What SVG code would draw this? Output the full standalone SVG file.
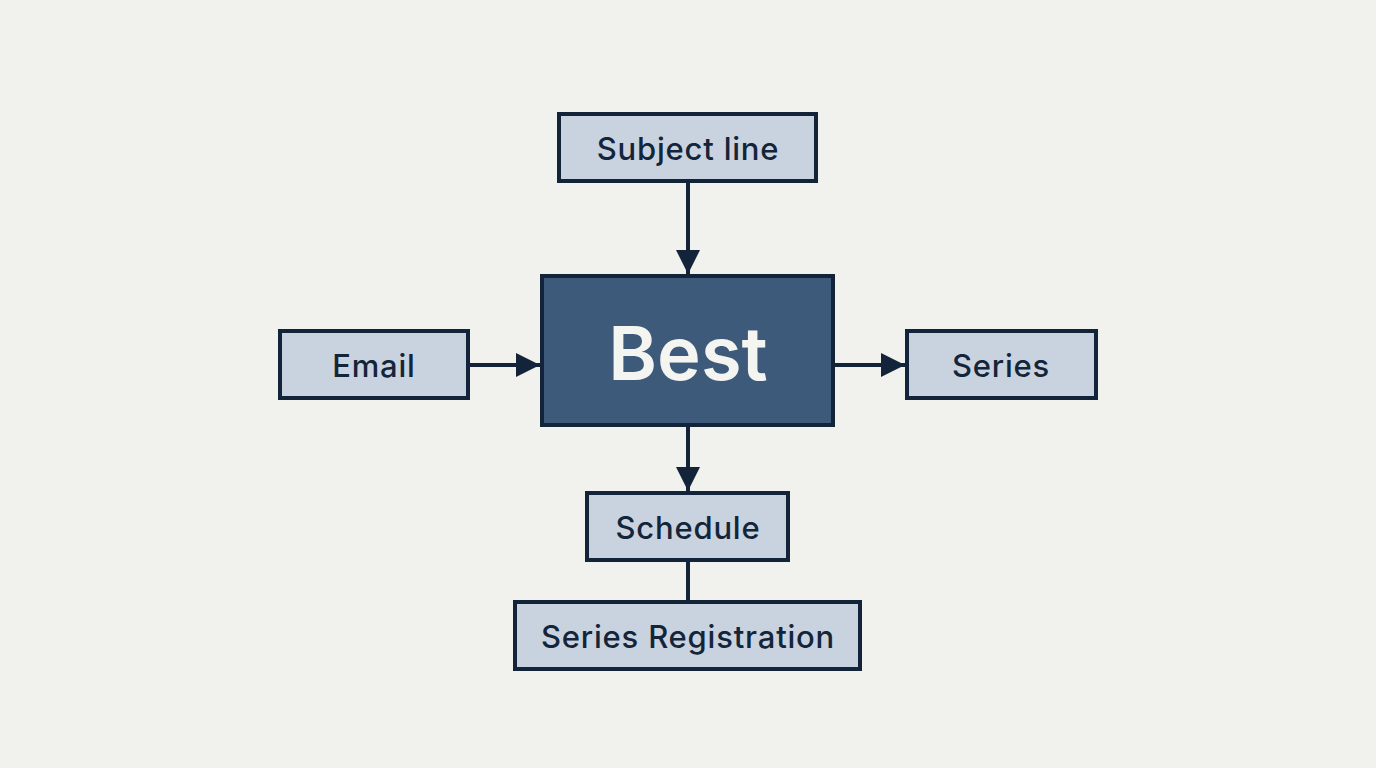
<svg xmlns="http://www.w3.org/2000/svg" width="1376" height="768" viewBox="0 0 1376 768">
<defs>
<style>
.box{fill:#c9d3df;stroke:#13243a;stroke-width:4}
.main{fill:#3e5a7b;stroke:#13243a;stroke-width:4}
.lbl{font-family:Inter,"Liberation Sans",sans-serif;font-size:31px;font-weight:500;letter-spacing:0.8px;fill:#14253a;text-anchor:middle;dominant-baseline:central}
.big{font-family:Inter,"Liberation Sans",sans-serif;font-size:74px;font-weight:600;fill:#f4f4f0;text-anchor:middle;dominant-baseline:central}
.conn{stroke:#13243a;stroke-width:4;fill:none}
</style>
<marker id="ah" viewBox="0 0 20 20" refX="20" refY="10" markerWidth="24" markerHeight="24" markerUnits="userSpaceOnUse" orient="auto">
<path d="M0,0 L20,10 L0,20 z" fill="#13243a"/>
</marker>
</defs>
<rect width="1376" height="768" fill="#f1f1ee"/>
<g id="connectors">
<line class="conn" x1="688" y1="183" x2="688" y2="274" marker-end="url(#ah)"/>
<line class="conn" x1="470" y1="365" x2="540" y2="365" marker-end="url(#ah)"/>
<line class="conn" x1="835" y1="365" x2="905" y2="365" marker-end="url(#ah)"/>
<line class="conn" x1="688" y1="427" x2="688" y2="491" marker-end="url(#ah)"/>
<line class="conn" x1="688" y1="562" x2="688" y2="601"/>
</g>
<g id="subject">
<rect class="box" x="559" y="114" width="257" height="67"/>
<text class="lbl" x="688" y="148">Subject line</text>
</g>
<g id="best">
<rect class="main" x="542" y="276" width="291" height="149"/>
<text class="big" x="688" y="353">Best</text>
</g>
<g id="email">
<rect class="box" x="280" y="331" width="188" height="67"/>
<text class="lbl" x="374" y="365">Email</text>
</g>
<g id="series">
<rect class="box" x="907" y="331" width="189" height="67"/>
<text class="lbl" x="1001" y="365">Series</text>
</g>
<g id="schedule">
<rect class="box" x="587" y="493" width="201" height="67"/>
<text class="lbl" x="688" y="527">Schedule</text>
</g>
<g id="registration">
<rect class="box" x="515" y="602" width="345" height="67"/>
<text class="lbl" x="688" y="636">Series Registration</text>
</g>
</svg>
